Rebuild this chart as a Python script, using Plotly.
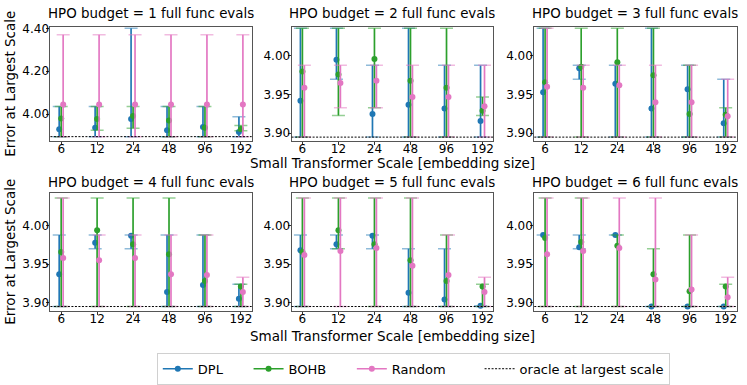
"""
HPO budget panels - error at largest scale vs small transformer scale
"""

import plotly.graph_objects as go
from plotly.subplots import make_subplots

# x categories
scales = ['6', '12', '24', '48', '96', '192']
budgets = [1, 2, 3, 4, 5, 6]
oracle = 3.895

# one row per budget (1..6), one value per scale
dpl_mean = [
    [3.929, 3.937, 3.977, 3.925, 3.940, 3.917],
    [3.942, 3.995, 3.925, 3.937, 3.932, 3.916],
    [3.953, 3.984, 3.964, 3.932, 3.957, 3.913],
    [3.937, 3.978, 3.987, 3.914, 3.923, 3.905],
    [3.968, 3.976, 3.987, 3.913, 3.904, 3.896],
    [3.988, 3.972, 3.988, 3.895, 3.895, 3.895],
]
dpl_lo = [
    [3.895, 3.895, 3.895, 3.895, 3.895, 3.895],
    [3.895, 3.970, 3.895, 3.895, 3.895, 3.895],
    [3.895, 3.970, 3.895, 3.895, 3.895, 3.895],
    [3.895, 3.970, 3.970, 3.895, 3.895, 3.895],
    [3.895, 3.970, 3.970, 3.895, 3.895, 3.895],
    [3.988, 3.970, 3.988, 3.895, 3.895, 3.895],
]
dpl_hi = [
    [4.036, 4.036, 4.400, 4.036, 4.036, 3.988],
    [4.036, 4.036, 3.988, 4.036, 3.988, 3.988],
    [4.036, 3.988, 3.988, 4.036, 3.988, 3.970],
    [3.988, 3.988, 3.988, 3.988, 3.988, 3.924],
    [3.988, 3.988, 3.988, 3.970, 3.970, 3.896],
    [3.988, 3.988, 3.988, 3.895, 3.895, 3.895],
]

bohb_mean = [
    [3.980, 3.977, 3.991, 3.970, 3.937, 3.931],
    [3.980, 3.976, 3.996, 3.968, 3.959, 3.929],
    [3.966, 3.986, 3.992, 3.975, 3.925, 3.924],
    [3.966, 3.994, 3.976, 3.963, 3.928, 3.921],
    [3.966, 3.994, 3.976, 3.955, 3.928, 3.921],
    [3.984, 3.979, 3.974, 3.937, 3.915, 3.921],
]
bohb_lo = [
    [3.895, 3.925, 3.934, 3.895, 3.895, 3.923],
    [3.895, 3.923, 3.933, 3.895, 3.895, 3.923],
    [3.895, 3.895, 3.895, 3.895, 3.895, 3.895],
    [3.895, 3.895, 3.895, 3.895, 3.895, 3.895],
    [3.895, 3.970, 3.895, 3.895, 3.895, 3.895],
    [3.895, 3.895, 3.895, 3.895, 3.895, 3.895],
]
bohb_hi = [
    [4.036, 4.036, 4.036, 4.036, 4.036, 3.947],
    [4.036, 4.036, 4.036, 4.036, 4.036, 3.947],
    [4.036, 4.036, 4.036, 4.036, 3.988, 3.933],
    [4.036, 4.036, 4.036, 4.036, 3.988, 3.924],
    [4.036, 4.036, 4.036, 4.036, 3.988, 3.924],
    [4.036, 4.036, 3.988, 3.970, 3.988, 3.924],
]

rand_mean = [
    [4.045, 4.045, 4.045, 4.045, 4.045, 4.045],
    [3.959, 3.965, 3.968, 3.947, 3.947, 3.935],
    [3.960, 3.959, 3.962, 3.940, 3.940, 3.922],
    [3.958, 3.955, 3.958, 3.937, 3.936, 3.914],
    [3.962, 3.967, 3.971, 3.948, 3.936, 3.914],
    [3.963, 3.967, 3.971, 3.930, 3.917, 3.907],
]
rand_lo = [
    [3.895, 3.895, 3.895, 3.895, 3.895, 3.895],
    [3.895, 3.933, 3.933, 3.895, 3.895, 3.895],
    [3.895, 3.895, 3.895, 3.895, 3.895, 3.895],
    [3.895, 3.895, 3.895, 3.895, 3.895, 3.895],
    [3.895, 3.895, 3.895, 3.895, 3.895, 3.895],
    [3.895, 3.895, 3.895, 3.895, 3.895, 3.895],
]
rand_hi = [
    [4.370, 4.370, 4.370, 4.370, 4.370, 4.370],
    [3.988, 3.988, 3.988, 3.988, 3.988, 3.988],
    [4.036, 3.988, 3.988, 3.988, 3.988, 3.970],
    [4.036, 3.988, 3.988, 3.988, 3.988, 3.933],
    [4.036, 4.036, 4.036, 4.036, 3.988, 3.933],
    [4.036, 4.036, 4.036, 4.036, 3.988, 3.933],
]

methods = [
    ('DPL', '#1f77b4', 'rgba(31,119,180,0.5)', -0.055, dpl_mean, dpl_lo, dpl_hi),
    ('BOHB', '#2ca02c', 'rgba(44,160,44,0.5)', 0.0, bohb_mean, bohb_lo, bohb_hi),
    ('Random', '#e377c2', 'rgba(227,119,194,0.5)', 0.055, rand_mean, rand_lo, rand_hi),
]
legend_pad = [5, 5, 7]  # trailing spaces to mimic matplotlib column spacing

W, H = 747, 385
FONT = 'DejaVu Sans'
col_px = [(50.5, 252), (292, 494), (535, 737.5)]
row_px = [(22.7, 139.5), (193.3, 314.5)]
y_ranges = [[3.877, 4.406], [3.8906, 4.0374], [3.8906, 4.0374],
            [3.8898, 4.0428], [3.8898, 4.0428], [3.8898, 4.0428]]
NBSP = '\u00a0'

fig = make_subplots(rows=2, cols=3)

for b in range(6):
    r, c = b // 3 + 1, b % 3 + 1
    for name, color, light, off, mean, lo, hi in methods:
        xs = [i + off for i in range(len(scales))]
        m = mean[b]
        up = [h - v for h, v in zip(hi[b], m)]
        down = [v - l for v, l in zip(m, lo[b])]
        # caps (lighter)
        fig.add_trace(go.Scatter(
            x=xs, y=m, mode='markers', showlegend=False, hoverinfo='skip',
            marker=dict(size=1, color='rgba(0,0,0,0)'),
            error_y=dict(type='data', symmetric=False, array=up, arrayminus=down,
                         color=light, thickness=1.5, width=6.5)),
            row=r, col=c)
        # bar + mean marker
        fig.add_trace(go.Scatter(
            x=xs, y=m, mode='markers', showlegend=False, name=name,
            marker=dict(size=6, color=color),
            error_y=dict(type='data', symmetric=False, array=up, arrayminus=down,
                         color=color, thickness=1.5, width=0)),
            row=r, col=c)

# legend entries
for (name, color, light, off, mean, lo, hi), pad in zip(methods, legend_pad):
    fig.add_trace(go.Scatter(x=[None], y=[None], mode='lines+markers',
                             name=name + NBSP * pad,
                             line=dict(color=color, width=1.5),
                             marker=dict(size=6, color=color)), row=1, col=1)
fig.add_trace(go.Scatter(x=[None], y=[None], mode='lines', name='oracle at largest scale',
                         line=dict(color='black', width=1, dash='2px,1.5px')), row=1, col=1)

annotations = []
for b in range(6):
    ri, ci = b // 3, b % 3
    x0, x1 = col_px[ci]
    y0, y1 = row_px[ri]
    sfx = '' if b == 0 else str(b + 1)
    fig.layout['xaxis' + sfx].update(
        domain=[x0 / W, x1 / W], range=[-0.3, 5.3],
        tickvals=list(range(len(scales))), ticktext=scales,
        showline=True, mirror=True, linecolor='#555', linewidth=1,
        ticks='outside', ticklen=3, tickcolor='#333', ticklabelstandoff=-6,
        showgrid=False, zeroline=False,
        tickfont=dict(family=FONT, size=12, color='black'))
    if b == 0:
        yt = [4.00, 4.20, 4.40]
    else:
        yt = [3.90, 3.95, 4.00]
    fig.layout['yaxis' + sfx].update(
        domain=[(H - y1) / H, (H - y0) / H], range=y_ranges[b],
        tickvals=yt, ticktext=['%.2f' % v for v in yt],
        showline=True, mirror=True, linecolor='#555', linewidth=1,
        ticks='outside', ticklen=3, tickcolor='#333', ticklabelstandoff=-5,
        showgrid=False, zeroline=False,
        tickfont=dict(family=FONT, size=12, color='black'))
    fig.add_shape(type='line', xref='x%s domain' % sfx, yref='y' + sfx,
                  x0=0, x1=1, y0=oracle, y1=oracle,
                  line=dict(color='black', width=1, dash='2px,1.5px'))
    # panel title
    annotations.append(dict(
        text='HPO budget = %d full func evals' % budgets[b],
        x=(x0 + x1) / 2 / W, y=(H - (18.5 if ri == 0 else 192.5)) / H,
        xref='paper', yref='paper', xanchor='center', yanchor='bottom',
        showarrow=False, font=dict(family=FONT, size=13.4, color='black')))

# axis titles
for ri, (ymid, xt) in enumerate([(81, 163), (254, 341)]):
    annotations.append(dict(
        text='Small Transformer Scale [embedding size]',
        x=393 / W, y=(H - xt) / H, xref='paper', yref='paper',
        xanchor='center', yanchor='middle', showarrow=False,
        font=dict(family=FONT, size=13.5, color='black')))
    annotations.append(dict(
        text='Error at Largest Scale', textangle=-90,
        x=10 / W, y=(H - ymid) / H, xref='paper', yref='paper',
        xanchor='center', yanchor='middle', showarrow=False,
        font=dict(family=FONT, size=13.5, color='black')))

fig.update_layout(
    width=W, height=H,
    margin=dict(l=0, r=0, t=0, b=0),
    paper_bgcolor='white', plot_bgcolor='white',
    font=dict(family=FONT, color='black'),
    annotations=annotations,
    showlegend=True,
    legend=dict(orientation='h', x=157 / W, xanchor='left',
                y=(H - 358) / H, yanchor='top',
                bordercolor='#d0d0d0', borderwidth=1, bgcolor='white',
                font=dict(family=FONT, size=13, color='black')),
)

fig.write_html("out.html", config={'displayModeBar': False},
               post_script="document.body.style.margin='0';")
